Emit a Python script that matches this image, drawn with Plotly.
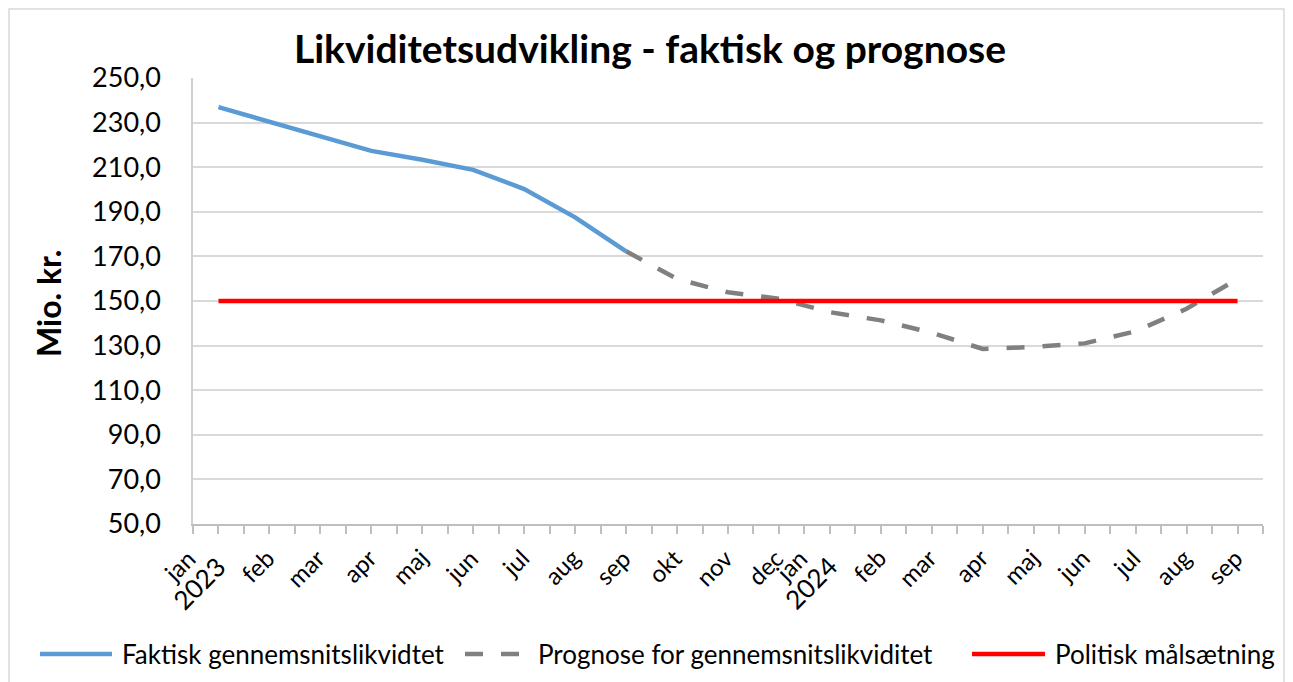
import plotly.graph_objects as go

months = ["jan", "feb", "mar", "apr", "maj", "jun", "jul", "aug", "sep", "okt", "nov", "dec",
          "jan", "feb", "mar", "apr", "maj", "jun", "jul", "aug", "sep"]
year_labels = ["2023", "2024"]
year_positions = [0, 12]

faktisk = [236.9, 230.4, 224.2, 217.3, 213.3, 208.8, 200.2, 187.5, 172.3]
prognose = [172.3, 159.9, 153.9, 151.0, 145.0, 141.3, 135.8, 128.5, 129.4, 131.0, 136.4, 146.5, 159.9]
prognose_start = 8
maal = [150.0] * len(months)

series_names = ["Faktisk gennemsnitslikvidtet", "Prognose for gennemsnitslikviditet", "Politisk målsætning"]
series_colors = ["#5b9bd5", "#808080", "#ff0000"]
series_dash = ["solid", "18px,18px", "solid"]

x_all = list(range(len(months)))
x_fakt = x_all[:len(faktisk)]
x_prog = x_all[prognose_start:prognose_start + len(prognose)]

FONT = "Lato"

fig = go.Figure()
for xs, ys, nm, col, ds in zip([x_fakt, x_prog, x_all], [faktisk, prognose, maal],
                               series_names, series_colors, series_dash):
    fig.add_trace(go.Scatter(x=xs, y=ys, mode="lines", name=nm,
                             line=dict(color=col, width=4.5, dash=ds), showlegend=False))

# page body has an 8px margin; positions below are in viewport pixels
OFF = 8
W, H = 1293, 682
PL, PR, PT, PB = 193, 1263, 78, 524  # plot area in viewport px
L, R, T, B = PL - OFF, W - PR + OFF, PT - OFF, H - PB + OFF
pw = PR - PL
ph = PB - PT

def px_x(p):
    return (p - PL) / pw

def px_y(p):
    return (PB - p) / ph

annotations = []
# month labels
for i, lab in enumerate(months):
    is_jan = (i in year_positions)
    annotations.append(dict(x=i, y=0, xref="x", yref="paper", text=lab, showarrow=False,
                            textangle=-45, font=dict(family=FONT, size=24, color="black"),
                            xanchor="right", yanchor="top",
                            xshift=(-15 if is_jan else 13), yshift=(-17 if is_jan else -16)))
# year labels
for lab, pos in zip(year_labels, year_positions):
    annotations.append(dict(x=pos, y=0, xref="x", yref="paper", text=lab, showarrow=False,
                            textangle=-45, font=dict(family=FONT, size=26, color="black"),
                            xshift=16, yshift=-24, xanchor="right", yanchor="top"))
# y axis title
annotations.append(dict(x=px_x(48), y=px_y(304), xref="paper", yref="paper", text="<b>Mio. kr.</b>",
                        showarrow=False, textangle=-90, font=dict(family=FONT, size=32, color="black"),
                        xanchor="center", yanchor="middle"))

# manual legend
leg_y = 654
leg_lines = [(40, 112), (465, 521), (972, 1045)]
leg_text_x = [120, 536, 1053]
shapes = [dict(type="rect", xref="paper", yref="paper", x0=px_x(9), x1=px_x(1284), y0=px_y(700), y1=px_y(9),
               line=dict(color="#d9d9d9", width=1.5), fillcolor="rgba(0,0,0,0)", layer="below")]
for (a, b), tx, nm, col, ds in zip(leg_lines, leg_text_x, series_names, series_colors, series_dash):
    shapes.append(dict(type="line", xref="paper", yref="paper", x0=px_x(a), x1=px_x(b),
                       y0=px_y(leg_y), y1=px_y(leg_y), line=dict(color=col, width=4.5, dash=ds)))
    annotations.append(dict(x=px_x(tx), y=px_y(leg_y), xref="paper", yref="paper", text=nm, showarrow=False,
                            xanchor="left", yanchor="middle", font=dict(family=FONT, size=26, color="black")))

fig.update_layout(
    width=W, height=H,
    margin=dict(l=L, r=R, t=T, b=B, autoexpand=False),
    paper_bgcolor="white", plot_bgcolor="white",
    separators=",.",
    title=dict(text="<b>Likviditetsudvikling - faktisk og prognose</b>", x=(650 - OFF) / W, xanchor="center",
               y=1 - (49 - OFF) / H, yanchor="middle", font=dict(family=FONT, size=39, color="black")),
    font=dict(family=FONT, color="black"),
    xaxis=dict(range=[-0.5, len(months) - 0.5], tickmode="array", tickvals=x_all, ticktext=[""] * len(months),
               ticks="outside", ticklen=8, tickcolor="#bfbfbf", tickwidth=1.5,
               minor=dict(tick0=-0.5, dtick=1, ticks="outside", ticklen=8, tickcolor="#bfbfbf", tickwidth=1.5, showgrid=False),
               showline=True, linecolor="#bfbfbf", linewidth=2, showgrid=False, zeroline=False, automargin=False),
    yaxis=dict(range=[50, 250], tickmode="linear", tick0=50, dtick=20, tickformat=".1f",
               tickfont=dict(family=FONT, size=27, color="black"), ticklabelstandoff=25,
               showline=True, linecolor="#d0d0d0", linewidth=1.5, gridcolor="#d9d9d9", gridwidth=1.5,
               zeroline=False, ticks="", automargin=False),
    showlegend=False,
    annotations=annotations,
    shapes=shapes,
)

fig.write_html("out.html")
